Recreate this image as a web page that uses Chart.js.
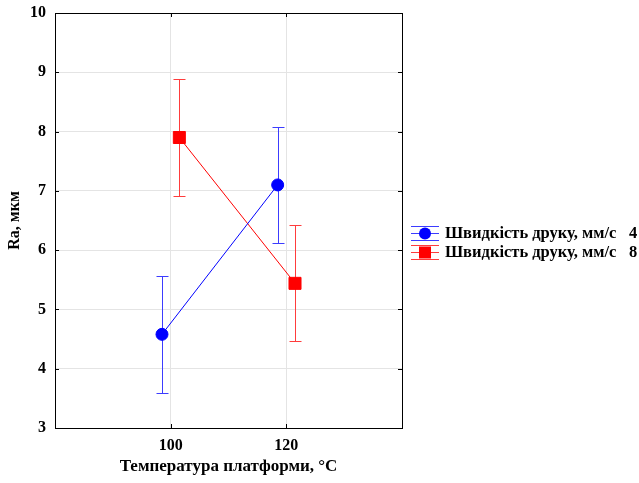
<!DOCTYPE html>
<html>
<head>
<meta charset="utf-8">
<script src="https://cdn.jsdelivr.net/npm/chart.js@4.4.1/dist/chart.umd.min.js"></script>
<style>
html,body{margin:0;padding:0;background:#fff;}
#wrap{width:639px;height:483px;position:relative;}
</style>
</head>
<body>
<div id="wrap"><canvas id="c"></canvas></div>
<script>
// ---- data ----
const categories = [100, 120];
const yTicks = [3, 4, 5, 6, 7, 8, 9, 10];
const speed4Mean = [4.58, 7.10];
const speed4Err = [0.99, 0.98];
const speed8Mean = [7.90, 5.44];
const speed8Err = [0.99, 0.98];
const seriesLabels = ['Швидкість друку, мм/с', 'Швидкість друку, мм/с'];
const seriesLevels = ['4', '8'];
const xTitle = 'Температура платформи, °C';
const yTitle = 'Ra, мкм';

const FONT = '"Liberation Serif", "Times New Roman", serif';
const BLUE = '#0000ff', RED = '#ff0000';
const BLUE_ERR = '#3c3cff', RED_ERR = '#ff3c3c';
const dodge = 1.5;

function pts(means, off) {
  return categories.map((c, i) => ({x: c + off, y: means[i]}));
}

const errorBars = {
  id: 'errorBars',
  beforeDatasetsDraw(chart) {
    const ctx = chart.ctx, ys = chart.scales.y;
    chart.data.datasets.forEach((ds, di) => {
      const meta = chart.getDatasetMeta(di);
      ctx.save();
      ctx.strokeStyle = ds.errColor;
      ctx.lineWidth = 1;
      meta.data.forEach((el, i) => {
        const v = ds.data[i].y, e = ds.errs[i];
        const x = Math.round(el.x) + 0.5;
        const y1 = Math.round(ys.getPixelForValue(v + e)) + 0.5;
        const y2 = Math.round(ys.getPixelForValue(v - e)) + 0.5;
        ctx.beginPath();
        ctx.moveTo(x, y1); ctx.lineTo(x, y2);
        ctx.moveTo(x - 6, y1); ctx.lineTo(x + 6, y1);
        ctx.moveTo(x - 6, y2); ctx.lineTo(x + 6, y2);
        ctx.stroke();
      });
      ctx.restore();
    });
  }
};

const frame = {
  id: 'frame',
  afterDraw(chart) {
    const {ctx, chartArea: a, scales} = chart;
    ctx.save();
    ctx.strokeStyle = '#000';
    ctx.lineWidth = 1;
    ctx.strokeRect(Math.round(a.left) + 0.5, Math.round(a.top) + 0.5, Math.round(a.right - a.left), Math.round(a.bottom - a.top));
    ctx.beginPath();
    categories.forEach(c => {
      const x = Math.round(scales.x.getPixelForValue(c)) + 0.5;
      ctx.moveTo(x, a.top); ctx.lineTo(x, a.top + 4);
      ctx.moveTo(x, a.bottom); ctx.lineTo(x, a.bottom - 4);
    });
    yTicks.forEach(t => {
      const y = Math.round(scales.y.getPixelForValue(t)) + 0.5;
      ctx.moveTo(a.left, y); ctx.lineTo(a.left + 4, y);
      ctx.moveTo(a.right, y); ctx.lineTo(a.right - 4, y);
    });
    ctx.stroke();

    // legend
    const lx0 = 411, lx1 = 439, tx = 445, vx = 629;
    const rows = [233, 252];
    chart.data.datasets.forEach((ds, i) => {
      const cy = rows[i];
      ctx.strokeStyle = ds.errColor;
      ctx.lineWidth = 1;
      ctx.beginPath();
      [-7, 0, 7].forEach(d => { ctx.moveTo(lx0, cy + d + 0.5); ctx.lineTo(lx1, cy + d + 0.5); });
      ctx.stroke();
      ctx.fillStyle = ds.borderColor;
      ctx.beginPath();
      if (i === 0) { ctx.arc(425, cy + 0.5, 6, 0, Math.PI * 2); ctx.fill(); }
      else { ctx.fillRect(419, cy - 5.5, 12, 12); }
      ctx.fillStyle = '#000';
      ctx.font = 'bold 16.5px ' + FONT;
      ctx.textBaseline = 'middle';
      ctx.textAlign = 'left';
      ctx.fillText(seriesLabels[i], tx, cy + 1);
      ctx.fillText(seriesLevels[i], vx, cy + 1);
    });
    ctx.restore();
  }
};

new Chart(document.getElementById('c'), {
  type: 'scatter',
  data: {
    datasets: [
      {label: seriesLabels[0] + ' ' + seriesLevels[0], data: pts(speed4Mean, -dodge), errs: speed4Err, errColor: BLUE_ERR,
       showLine: true, borderColor: BLUE, backgroundColor: BLUE, borderWidth: 1,
       pointStyle: 'circle', pointRadius: 6, pointHoverRadius: 6},
      {label: seriesLabels[1] + ' ' + seriesLevels[1], data: pts(speed8Mean, dodge), errs: speed8Err, errColor: RED_ERR,
       showLine: true, borderColor: RED, backgroundColor: RED, borderWidth: 1,
       pointStyle: 'rect', pointRadius: 8.5, pointHoverRadius: 8.5}
    ]
  },
  options: {
    responsive: true,
    maintainAspectRatio: false,
    animation: false,
    events: [],
    layout: {padding: {top: 13, right: 237, bottom: 0, left: 0}},
    plugins: {legend: {display: false}, tooltip: {enabled: false}},
    scales: {
      x: {
        type: 'linear', min: 80, max: 140,
        afterBuildTicks: s => { s.ticks = categories.map(v => ({value: v})); },
        afterFit: s => { s.height = 55; s.paddingLeft = 0; s.paddingRight = 0; },
        grid: {color: '#e4e4e4', drawTicks: false},
        border: {display: false},
        ticks: {color: '#000', font: {family: FONT, size: 16, weight: 'bold'}, padding: 8},
        title: {display: true, text: xTitle, color: '#000', font: {family: FONT, size: 17, weight: 'bold'}, padding: {top: 0, bottom: 6}}
      },
      y: {
        min: 3, max: 10,
        afterBuildTicks: s => { s.ticks = yTicks.map(v => ({value: v})); },
        afterFit: s => { s.width = 55; s.paddingTop = 0; s.paddingBottom = 0; },
        grid: {color: '#e4e4e4', drawTicks: false},
        border: {display: false},
        ticks: {color: '#000', font: {family: FONT, size: 16, weight: 'bold'}, padding: 9},
        title: {display: true, text: yTitle, color: '#000', font: {family: FONT, size: 16, weight: 'bold'}, padding: {top: 5, bottom: 0}}
      }
    }
  },
  plugins: [errorBars, frame]
});
</script>
</body>
</html>
